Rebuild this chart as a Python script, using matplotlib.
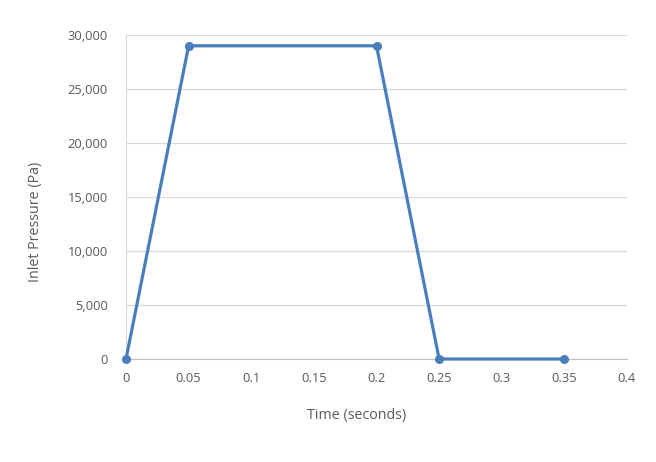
import matplotlib

matplotlib.use("Agg")
import matplotlib.pyplot as plt
from matplotlib.ticker import FuncFormatter

# Données
time_s = [0.0, 0.05, 0.2, 0.25, 0.35]
pressure_pa = [0, 29000, 29000, 0, 0]
x_ticks = [0, 0.05, 0.1, 0.15, 0.2, 0.25, 0.3, 0.35, 0.4]
x_labels = ["0", "0.05", "0.1", "0.15", "0.2", "0.25", "0.3", "0.35", "0.4"]
y_ticks = [0, 5000, 10000, 15000, 20000, 25000, 30000]

plt.rcParams["font.family"] = ["Open Sans", "DejaVu Sans"]
text_col = "#595959"
grid_col = "#d9d9d9"

fig = plt.figure(figsize=(6.56, 4.62), dpi=100)
ax = fig.add_axes((126 / 656, 1 - 359 / 462, 501 / 656, 324 / 462))

ax.plot(time_s, pressure_pa, color="#4a7ebb", linewidth=2.3,
        marker="o", markersize=5.5, zorder=3, clip_on=False)

ax.set_xlim(0, 0.4)
ax.set_ylim(0, 30000)
ax.set_xticks(x_ticks)
ax.set_xticklabels(x_labels)
ax.set_yticks(y_ticks)
ax.yaxis.set_major_formatter(FuncFormatter(lambda v, _: f"{int(v):,}"))

ax.grid(axis="y", color=grid_col, linewidth=0.9)
ax.set_axisbelow(True)
for side in ("top", "right"):
    ax.spines[side].set_visible(False)
ax.spines["left"].set_color(grid_col)
ax.spines["bottom"].set_color("#bfbfbf")
ax.tick_params(length=0, labelsize=9.3, colors=text_col)
ax.tick_params(axis="x", pad=9)
ax.tick_params(axis="y", pad=13)

# titres d'axes placés comme dans Excel (pas centrés sur la zone de tracé)
fig.text(357 / 656, 1 - 415 / 462, "Time (seconds)", fontsize=10.3,
         color=text_col, ha="center", va="center")
fig.text(36 / 656, 1 - 222 / 462, "Inlet Pressure (Pa)", fontsize=10.3,
         color=text_col, ha="center", va="center", rotation=90)

fig.savefig("out.png", dpi=100, facecolor="white")
